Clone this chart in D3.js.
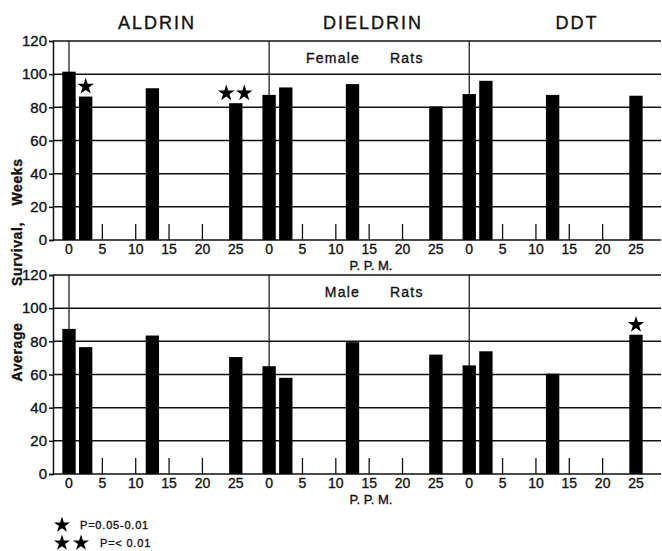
<!DOCTYPE html>
<html>
<head>
<meta charset="utf-8">
<script src="https://cdn.jsdelivr.net/npm/d3@7"></script>
<style>
  body { margin: 0; background: #fff; }
  text { font-family: "Liberation Sans", Arial, sans-serif; fill: #111; stroke: #111; stroke-width: 0.35px; }
</style>
</head>
<body>
<div id="chart"></div>
<script>
// chart data
const sections = ["ALDRIN", "DIELDRIN", "DDT"];
const doses = [0, 2.5, 12.5, 25];
const ppmTicks = [0, 5, 10, 15, 20, 25];
const weekTicks = [0, 20, 40, 60, 80, 100, 120];
const femaleWeeks = [[101.5, 86.5, 91.5, 82.5], [87.5, 92, 94, 80.5], [88, 96, 87.5, 87]];
const maleWeeks = [[87.5, 76.5, 83.5, 70.5], [65, 58, 79.5, 72], [65.5, 74, 60.5, 84]];
const femaleStars = [[0, 1, 0, 2], [0, 0, 0, 0], [0, 0, 0, 0]];
const maleStars = [[0, 0, 0, 0], [0, 0, 0, 0], [0, 0, 0, 1]];
const sectionSpan = 30;

const width = 662, height = 551;
const svg = d3.select("#chart").append("svg")
  .attr("width", width).attr("height", height);

const x = d3.scaleLinear().domain([-2.4, 88.75]).range([53, 661]);
const barW = x(2) - x(0);
const ink = "#111";

function drawPanel(top, bottom, values, stars, label) {
  const y = d3.scaleLinear().domain([0, 120]).range([bottom, top]);
  const g = svg.append("g");

  // horizontal grid lines
  g.selectAll(".grid").data(weekTicks).enter().append("line")
    .attr("x1", x.range()[0]).attr("x2", x.range()[1])
    .attr("y1", d => y(d)).attr("y2", d => y(d))
    .attr("stroke", ink).attr("stroke-width", 1.5);

  // left axis
  const yAxis = d3.axisLeft(y).tickValues(weekTicks).tickSize(4).tickPadding(2);
  const ag = g.append("g").attr("transform", `translate(${x.range()[0]},0)`).call(yAxis);
  ag.select(".domain").attr("stroke", ink).attr("stroke-width", 1.5);
  ag.selectAll(".tick line").attr("stroke", ink).attr("stroke-width", 1.5);
  ag.selectAll(".tick text").style("font-size", "15px").attr("fill", ink)
    .style("font-family", "'Liberation Sans', Arial, sans-serif");

  sections.forEach((s, i) => {
    const off = i * sectionSpan;
    // section divider
    g.append("line")
      .attr("x1", x(off)).attr("x2", x(off))
      .attr("y1", y(120)).attr("y2", y(0))
      .attr("stroke", ink).attr("stroke-width", 1.2);
    // small inner ticks
    g.selectAll(null).data(ppmTicks).enter().append("line")
      .attr("x1", d => x(off + d)).attr("x2", d => x(off + d))
      .attr("y1", y(0)).attr("y2", y(0) - 16)
      .attr("stroke", ink).attr("stroke-width", 1.3);
    // tick labels
    g.selectAll(null).data(ppmTicks).enter().append("text")
      .attr("x", d => x(off + d)).attr("y", bottom + 14)
      .attr("text-anchor", "middle").style("font-size", "14px")
      .text(d => d);
    // bars
    g.selectAll(null).data(doses.map((d, j) => ({dose: d, v: values[i][j], star: stars[i][j]})))
      .enter().append("rect")
      .attr("x", d => x(off + d.dose) - barW / 2)
      .attr("y", d => y(d.v))
      .attr("width", barW)
      .attr("height", d => y(0) - y(d.v))
      .attr("fill", "#000");
    // significance stars
    doses.forEach((d, j) => {
      const n = stars[i][j];
      for (let k = 0; k < n; k++) {
        const dx = n === 1 ? 0 : (k === 0 ? -9.5 : 8.5);
        g.append("path")
          .attr("d", d3.symbol(d3.symbolStar, 85)())
          .attr("transform", `translate(${x(off + d) + dx},${y(values[i][j]) - 10})`)
          .attr("fill", "#000");
      }
    });
  });

  // panel label
  g.append("text").attr("x", 360).attr("y", y(110) + 5)
    .attr("text-anchor", "end").style("font-size", "14px")
    .attr("letter-spacing", 1.2).text(label);
  g.append("text").attr("x", 390).attr("y", y(110) + 5)
    .style("font-size", "14px").attr("letter-spacing", 1.2).text("Rats");

  // x axis title
  g.append("text").attr("x", 371).attr("y", bottom + 30)
    .attr("text-anchor", "middle").style("font-size", "13px")
    .text("P. P. M.");
}

drawPanel(41, 240, femaleWeeks, femaleStars, "Female");
drawPanel(275, 474, maleWeeks, maleStars, "Male");

// section titles
const titleX = [157, 373, 577];
svg.selectAll(".title").data(sections).enter().append("text")
  .attr("x", (d, i) => titleX[i]).attr("y", 29)
  .attr("text-anchor", "middle").style("font-size", "18px")
  .attr("letter-spacing", 2).text(d => d);

// y axis title, words spread out as in the original lettering
const yTitle = [["Weeks", 182], ["Survival,", 254], ["Average", 352]];
svg.selectAll(".ytitle").data(yTitle).enter().append("text")
  .attr("transform", d => `translate(22,${d[1]}) rotate(-90)`)
  .attr("text-anchor", "middle").style("font-size", "14px").style("font-weight", "bold")
  .attr("letter-spacing", 0.6)
  .text(d => d[0]);

// legend
svg.append("path").attr("d", d3.symbol(d3.symbolStar, 80)())
  .attr("transform", "translate(62,525)").attr("fill", "#000");
svg.append("text").attr("x", 80).attr("y", 529).style("font-size", "11px")
  .attr("letter-spacing", 0.8).text("P=0.05-0.01");
[62, 81].forEach(cx => svg.append("path").attr("d", d3.symbol(d3.symbolStar, 80)())
  .attr("transform", `translate(${cx},543)`).attr("fill", "#000"));
svg.append("text").attr("x", 100).attr("y", 547).style("font-size", "11px")
  .attr("letter-spacing", 0.8).text("P=< 0.01");
</script>
</body>
</html>
